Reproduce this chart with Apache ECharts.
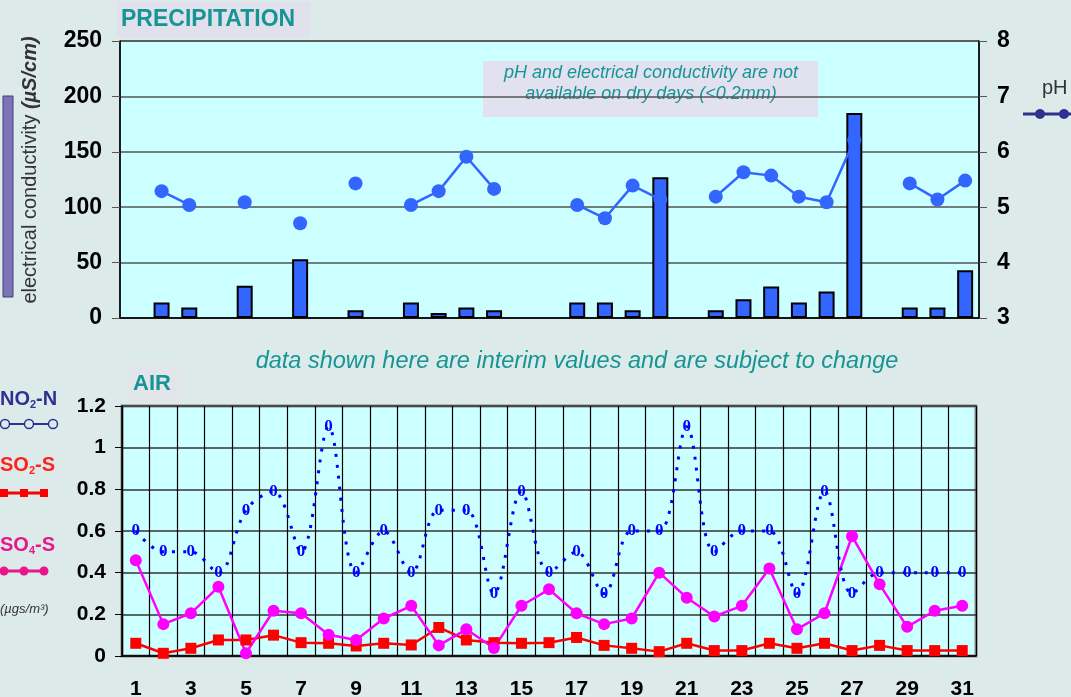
<!DOCTYPE html>
<html>
<head>
<meta charset="utf-8">
<script src="https://cdn.jsdelivr.net/npm/echarts@6/dist/echarts.min.js"></script>
<style>
  html, body { margin: 0; padding: 0; background: #DCEAEA; }
  #chart { width: 1071px; height: 697px; }
</style>
</head>
<body>
<div id="chart"></div>
<script>
// days of the month
const days = ['1', '2', '3', '4', '5', '6', '7', '8', '9', '10', '11', '12', '13', '14', '15', '16',
  '17', '18', '19', '20', '21', '22', '23', '24', '25', '26', '27', '28', '29', '30', '31']

// precipitation: conductivity (uS/cm) and pH, null on dry days
const conductivity = [null, 14, 9.5, null, 29, null, 53, null, 7, null, 14, 4.5, 9.5, 7, null, null,
  14, 14, 7, 127, null, 7, 17, 28.5, 14, 24, 185, null, 9.5, 9.5, 43]
const ph = [null, 5.29, 5.04, null, 5.09, null, 4.71, null, 5.43, null, 5.04, 5.29, 5.91, 5.33, null, null,
  5.04, 4.80, 5.39, 5.14, null, 5.19, 5.63, 5.57, 5.19, 5.09, 6.21, null, 5.43, 5.14, 5.48]

// air (ugs/m3)
const no2 = [0.6, 0.5, 0.5, 0.4, 0.7, 0.79, 0.5, 1.1, 0.4, 0.6, 0.4, 0.7, 0.7, 0.3, 0.79, 0.4,
  0.5, 0.3, 0.6, 0.6, 1.1, 0.5, 0.6, 0.6, 0.3, 0.79, 0.3, 0.4, 0.4, 0.4, 0.4]
const so2 = [0.061, 0.013, 0.037, 0.077, 0.077, 0.1, 0.064, 0.061, 0.048, 0.061, 0.053, 0.137, 0.077, 0.064, 0.061, 0.064,
  0.089, 0.051, 0.037, 0.021, 0.061, 0.026, 0.026, 0.061, 0.037, 0.061, 0.026, 0.051, 0.026, 0.026, 0.026]
const so4 = [0.46, 0.153, 0.205, 0.332, 0.013, 0.217, 0.205, 0.102, 0.077, 0.18, 0.241, 0.051, 0.128, 0.038, 0.241, 0.32,
  0.205, 0.153, 0.18, 0.4, 0.28, 0.19, 0.241, 0.42, 0.128, 0.205, 0.575, 0.344, 0.14, 0.217, 0.241]

// axis ticks
const ecTicks = [0, 50, 100, 150, 200, 250]
const phTicks = [3, 4, 5, 6, 7, 8]
const airTicks = [0, 0.2, 0.4, 0.6, 0.8, 1, 1.2]

const FONT = 'Arial, "Liberation Sans", sans-serif'
const TEAL = '#179494'
const numLabel = { color: '#000', fontWeight: 'bold', fontFamily: FONT, fontSize: 22 }

const chart = echarts.init(document.getElementById('chart'))

chart.setOption({
  backgroundColor: '#DCEAEA',
  animation: false,
  grid: [
    { left: 120, top: 41, width: 859, height: 277, show: true, backgroundColor: '#CCFFFF',
      borderColor: '#000', borderWidth: 1, outerBoundsMode: 'none' },
    { left: 122, top: 406, width: 854, height: 250, show: true, backgroundColor: '#CCFFFF',
      borderColor: '#888', borderWidth: 3, outerBoundsMode: 'none' }
  ],
  xAxis: [
    {
      gridIndex: 0, type: 'category', data: days,
      axisLabel: { show: false },
      axisLine: { lineStyle: { color: '#000', width: 1.5 } },
      axisTick: { interval: 0, length: 8, lineStyle: { color: '#333' } }
    },
    {
      gridIndex: 1, type: 'category', data: days,
      axisLabel: { ...numLabel, fontSize: 21, interval: 1, margin: 23 },
      axisLine: { lineStyle: { color: '#000', width: 1.5 } },
      axisTick: { interval: 0, length: 8, lineStyle: { color: '#000' } },
      splitLine: { show: true, interval: 0, lineStyle: { color: '#000', width: 1.2 } }
    }
  ],
  yAxis: [
    {
      gridIndex: 0, type: 'value',
      min: ecTicks[0], max: ecTicks[ecTicks.length - 1], interval: ecTicks[1] - ecTicks[0],
      axisLine: { show: true, lineStyle: { color: '#000', width: 1.5 } },
      axisTick: { show: true, length: 8, lineStyle: { color: '#555' } },
      splitLine: { lineStyle: { color: '#555', width: 1.5 } },
      axisLabel: { ...numLabel, fontSize: 23, margin: 18 }
    },
    {
      gridIndex: 0, type: 'value', position: 'right',
      min: phTicks[0], max: phTicks[phTicks.length - 1], interval: phTicks[1] - phTicks[0],
      axisLine: { show: true, lineStyle: { color: '#000', width: 1.5 } },
      axisTick: { show: true, length: 8, lineStyle: { color: '#555' } },
      splitLine: { show: false },
      axisLabel: { ...numLabel, fontSize: 23, margin: 18 }
    },
    {
      gridIndex: 1, type: 'value',
      min: airTicks[0], max: airTicks[airTicks.length - 1], interval: 0.2,
      axisLine: { show: true, lineStyle: { color: '#000', width: 1.5 } },
      axisTick: { show: true, length: 7, lineStyle: { color: '#000' } },
      splitLine: { lineStyle: { color: '#333', width: 1.5 } },
      axisLabel: { ...numLabel, fontSize: 21, margin: 16 }
    }
  ],
  series: [
    {
      name: 'electrical conductivity', type: 'bar', xAxisIndex: 0, yAxisIndex: 0,
      data: conductivity, barWidth: 16,
      itemStyle: { color: '#3366FF', borderColor: '#000', borderWidth: 2 }
    },
    {
      name: 'pH', type: 'line', xAxisIndex: 0, yAxisIndex: 1, z: 3,
      data: ph, connectNulls: false,
      symbol: 'circle', symbolSize: 14,
      itemStyle: { color: '#3366FF' },
      lineStyle: { color: '#3366FF', width: 2.5 }
    },
    {
      name: 'SO2-S', type: 'line', xAxisIndex: 1, yAxisIndex: 2,
      data: so2, symbol: 'rect', symbolSize: 11,
      itemStyle: { color: '#FF0000' },
      lineStyle: { color: '#FF0000', width: 2.5 }
    },
    {
      name: 'SO4-S', type: 'line', xAxisIndex: 1, yAxisIndex: 2,
      data: so4, symbol: 'circle', symbolSize: 12,
      itemStyle: { color: '#FF00FF' },
      lineStyle: { color: '#FF00FF', width: 2.5 }
    },
    {
      name: 'NO2-N', type: 'line', xAxisIndex: 1, yAxisIndex: 2, z: 4,
      data: no2, smooth: 0.35,
      symbol: 'circle', symbolSize: 2,
      itemStyle: { color: 'rgba(0,0,0,0)' },
      lineStyle: { color: '#0000FF', width: 3, type: [3, 8] },
      label: {
        show: true, position: 'inside', formatter: '0',
        color: '#0000FF', fontWeight: 'bold', fontSize: 17,
        fontFamily: '"Liberation Serif", "DejaVu Serif", serif'
      }
    }
  ],
  graphic: [
    // precipitation title
    { type: 'rect', shape: { x: 117, y: 2, width: 193, height: 35 }, style: { fill: '#E1E1EE' } },
    { type: 'text', x: 121, y: 20, style: { text: 'PRECIPITATION', fill: TEAL, font: 'bold 23px ' + FONT, verticalAlign: 'middle' } },
    // dry days note
    { type: 'rect', shape: { x: 483, y: 61, width: 335, height: 56 }, style: { fill: '#E1E1F0' } },
    { type: 'text', x: 651, y: 73, style: { text: 'pH and electrical conductivity are not', fill: TEAL, font: 'italic 18px ' + FONT, align: 'center', verticalAlign: 'middle' } },
    { type: 'text', x: 651, y: 94, style: { text: 'available on dry days (<0.2mm)', fill: TEAL, font: 'italic 18px ' + FONT, align: 'center', verticalAlign: 'middle' } },
    // left axis name + swatch
    { type: 'rect', shape: { x: 3, y: 96, width: 10, height: 201 }, style: { fill: '#7B74B9', stroke: '#404070', lineWidth: 1 } },
    {
      type: 'text', x: 30, y: 170, rotation: Math.PI / 2,
      style: {
        text: '{a|electrical conductivity }{b|(µS/cm)}', align: 'center', verticalAlign: 'middle',
        rich: {
          a: { fontSize: 20, fontFamily: FONT, fill: '#333', color: '#333' },
          b: { fontSize: 20, fontFamily: FONT, fontStyle: 'italic', fontWeight: 'bold', fill: '#333', color: '#333' }
        }
      }
    },
    // pH legend
    { type: 'text', x: 1042, y: 88, style: { text: 'pH', fill: '#333', font: '20px ' + FONT, verticalAlign: 'middle' } },
    { type: 'line', shape: { x1: 1023, y1: 114, x2: 1071, y2: 114 }, style: { stroke: '#2E3192', lineWidth: 3 } },
    { type: 'circle', shape: { cx: 1040, cy: 114, r: 5 }, style: { fill: '#2E3192' } },
    { type: 'circle', shape: { cx: 1064, cy: 114, r: 5 }, style: { fill: '#2E3192' } },
    // interim note + AIR title
    { type: 'text', x: 577, y: 361, style: { text: 'data shown here are interim values and are subject to change', fill: TEAL, font: 'italic 23.5px ' + FONT, align: 'center', verticalAlign: 'middle' } },
    { type: 'rect', shape: { x: 129, y: 365, width: 52, height: 37 }, style: { fill: '#E2E6EA' } },
    { type: 'text', x: 133, y: 384, style: { text: 'AIR', fill: TEAL, font: 'bold 22px ' + FONT, verticalAlign: 'middle' } },
    // NO2-N legend
    { type: 'text', x: 0, y: 399, style: { text: 'NO', fill: '#2E3192', font: 'bold 20px ' + FONT, verticalAlign: 'middle' } },
    { type: 'text', x: 30, y: 405, style: { text: '2', fill: '#2E3192', font: 'bold 11px ' + FONT, verticalAlign: 'middle' } },
    { type: 'text', x: 36, y: 399, style: { text: '-N', fill: '#2E3192', font: 'bold 20px ' + FONT, verticalAlign: 'middle' } },
    { type: 'line', shape: { x1: 5, y1: 424, x2: 53, y2: 424 }, style: { stroke: '#2E3192', lineWidth: 2 } },
    { type: 'circle', shape: { cx: 5, cy: 424, r: 4.5 }, style: { fill: '#DCEAEA', stroke: '#2E3192', lineWidth: 1.5 } },
    { type: 'circle', shape: { cx: 29, cy: 424, r: 4.5 }, style: { fill: '#DCEAEA', stroke: '#2E3192', lineWidth: 1.5 } },
    { type: 'circle', shape: { cx: 53, cy: 424, r: 4.5 }, style: { fill: '#DCEAEA', stroke: '#2E3192', lineWidth: 1.5 } },
    // SO2-S legend
    { type: 'text', x: 0, y: 465, style: { text: 'SO', fill: '#FF2020', font: 'bold 20px ' + FONT, verticalAlign: 'middle' } },
    { type: 'text', x: 29, y: 471, style: { text: '2', fill: '#FF2020', font: 'bold 11px ' + FONT, verticalAlign: 'middle' } },
    { type: 'text', x: 35, y: 465, style: { text: '-S', fill: '#FF2020', font: 'bold 20px ' + FONT, verticalAlign: 'middle' } },
    { type: 'line', shape: { x1: 4, y1: 493, x2: 44, y2: 493 }, style: { stroke: '#FF0000', lineWidth: 3 } },
    { type: 'rect', shape: { x: 0, y: 489, width: 8, height: 8 }, style: { fill: '#FF0000' } },
    { type: 'rect', shape: { x: 20, y: 489, width: 8, height: 8 }, style: { fill: '#FF0000' } },
    { type: 'rect', shape: { x: 40, y: 489, width: 8, height: 8 }, style: { fill: '#FF0000' } },
    // SO4-S legend
    { type: 'text', x: 0, y: 545, style: { text: 'SO', fill: '#E8168A', font: 'bold 20px ' + FONT, verticalAlign: 'middle' } },
    { type: 'text', x: 29, y: 551, style: { text: '4', fill: '#E8168A', font: 'bold 11px ' + FONT, verticalAlign: 'middle' } },
    { type: 'text', x: 35, y: 545, style: { text: '-S', fill: '#E8168A', font: 'bold 20px ' + FONT, verticalAlign: 'middle' } },
    { type: 'line', shape: { x1: 4, y1: 571, x2: 44, y2: 571 }, style: { stroke: '#E8168A', lineWidth: 3 } },
    { type: 'circle', shape: { cx: 4, cy: 571, r: 4.5 }, style: { fill: '#E8168A' } },
    { type: 'circle', shape: { cx: 24, cy: 571, r: 4.5 }, style: { fill: '#E8168A' } },
    { type: 'circle', shape: { cx: 44, cy: 571, r: 4.5 }, style: { fill: '#E8168A' } },
    // units
    { type: 'text', x: 0, y: 609, style: { text: '(µgs/m³)', fill: '#333', font: 'italic 13px ' + FONT, verticalAlign: 'middle' } }
  ]
})
</script>
</body>
</html>
